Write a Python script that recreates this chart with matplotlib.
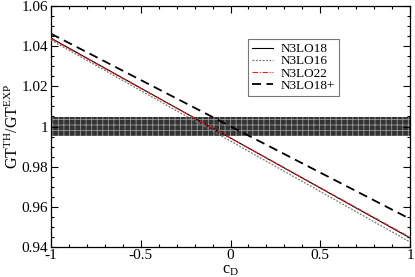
import matplotlib
matplotlib.use("Agg")
import matplotlib.pyplot as plt
from matplotlib.ticker import MultipleLocator, FormatStrFormatter
import numpy as np

plt.rcParams['font.family'] = ['Liberation Serif', 'DejaVu Serif']
plt.rcParams['mathtext.fontset'] = 'custom'
plt.rcParams['mathtext.rm'] = 'Liberation Serif'
plt.rcParams['mathtext.it'] = 'Liberation Serif:italic'
plt.rcParams['hatch.linewidth'] = 0.6

cD = [-1.0, 1.0]
n3lo18 = [1.0440, 0.9445]
n3lo16 = [1.0430, 0.9425]
n3lo22 = [1.0437, 0.9448]
n3lo18p = [1.0462, 0.9540]
band_center = 1.0
band_half = 0.0045

fig = plt.figure(figsize=(4.15, 2.77), dpi=100)
ax = fig.add_axes([51/415, 1-247/277, (410-51)/415, (247-6)/277])

xb = np.array([-1.0, 1.0])
ax.fill_between(xb, band_center-band_half, band_center+band_half,
                facecolor='#333333', edgecolor='#999999', hatch='+++', linewidth=0, zorder=1)

ax.plot(cD, n3lo18, color='black', lw=0.8, ls='-', label='N3LO18', zorder=3)
ax.plot(cD, n3lo16, color='#777777', lw=0.9, ls=(0, (1.5, 1.2)), label='N3LO16', zorder=3)
ax.plot(cD, n3lo22, color='#ee1c1c', lw=0.8, ls=(0, (5, 1.5, 1, 1.5)), label='N3LO22', zorder=3)
ax.plot(cD, n3lo18p, color='black', lw=1.3, ls=(0, (5, 3)), label='N3LO18+', zorder=3)

ax.set_xlim(-1, 1)
ax.set_ylim(0.94, 1.06)
ax.xaxis.set_major_locator(MultipleLocator(0.5))
ax.xaxis.set_minor_locator(MultipleLocator(0.1))
ax.yaxis.set_major_locator(MultipleLocator(0.02))
ax.yaxis.set_minor_locator(MultipleLocator(0.005))
ax.xaxis.set_major_formatter(FormatStrFormatter('%g'))
ax.yaxis.set_major_formatter(FormatStrFormatter('%g'))
ax.tick_params(which='both', direction='in', top=True, right=True, labelsize=11, width=0.8)
ax.tick_params(which='major', length=5)
ax.tick_params(which='minor', length=2.5)
ax.tick_params(axis='x', pad=1.5)
ax.tick_params(axis='y', pad=2)
for s in ax.spines.values():
    s.set_linewidth(0.9)

ax.set_xlabel(r'c$_{\mathrm{D}}$', fontsize=11.5, labelpad=0)
ax.set_ylabel(r'GT$^{\mathrm{TH}}$/GT$^{\mathrm{EXP}}$', fontsize=11.5, labelpad=0)

leg = ax.legend(loc='upper left', bbox_to_anchor=((248-51)/359, 1-(39-6)/241),
                fontsize=9.5, frameon=True, fancybox=False, edgecolor='#555555',
                handlelength=1.6, handletextpad=0.6, borderpad=0.3, labelspacing=0.0,
                borderaxespad=0)
leg.get_frame().set_linewidth(0.8)

fig.savefig('out.png', dpi=100)
